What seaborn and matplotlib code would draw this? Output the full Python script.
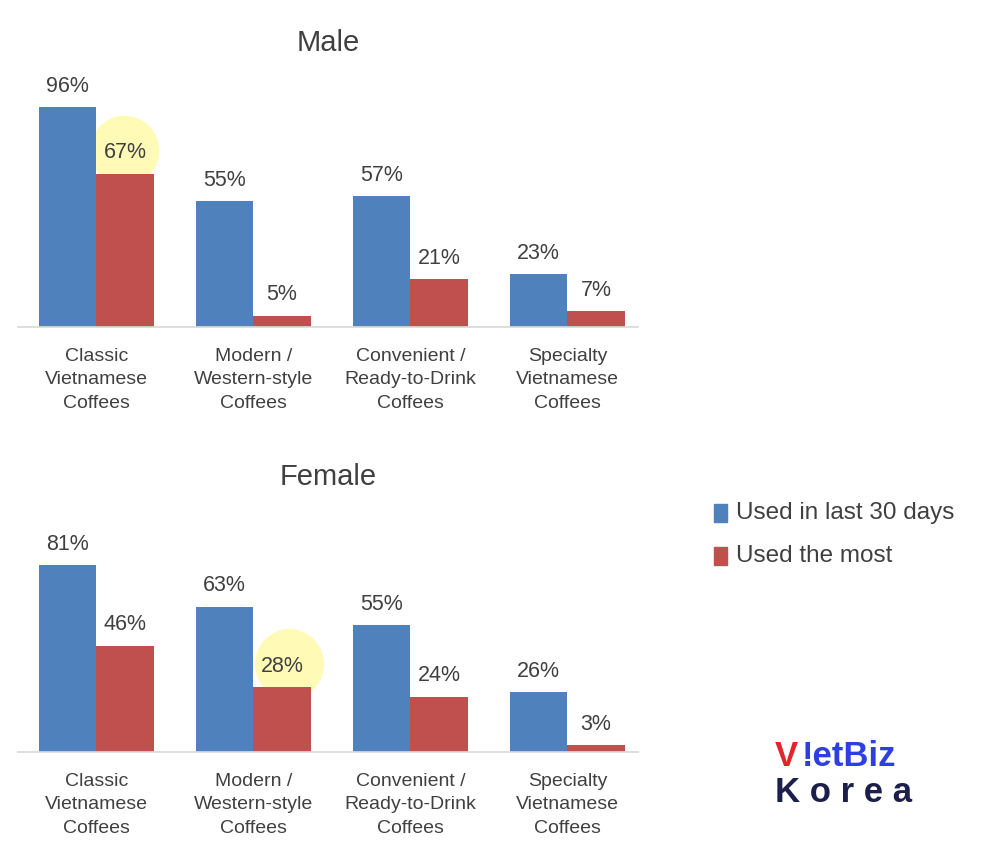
import matplotlib
matplotlib.use("Agg")
import matplotlib.pyplot as plt
import seaborn as sns
import pandas as pd
from matplotlib.patches import Ellipse, Rectangle

categories = ["Classic\nVietnamese\nCoffees", "Modern /\nWestern-style\nCoffees",
              "Convenient /\nReady-to-Drink\nCoffees", "Specialty\nVietnamese\nCoffees"]
series = ["Used in last 30 days", "Used the most"]
male_30 = [96, 55, 57, 23]
male_most = [67, 5, 21, 7]
female_30 = [81, 63, 55, 26]
female_most = [46, 28, 24, 3]
colors = ["#4F81BD", "#C0504D"]
tc = "#404040"

sns.set_theme(style="white")
plt.rcParams['font.family'] = ['Liberation Sans', 'DejaVu Sans']

fig = plt.figure(figsize=(10, 8.66), dpi=100)
ax1 = fig.add_axes([0.018, 0.6224, 0.62, 0.2644])
ax2 = fig.add_axes([0.018, 0.1316, 0.62, 0.2667])

def draw(ax, a, b, hl):
    df = pd.DataFrame({"cat": categories * 2, "s": [series[0]] * 4 + [series[1]] * 4,
                       "v": a + b})
    ex, ey = hl
    ax.add_patch(Ellipse((ex, ey), 0.43, 30, color="#FFFBB0", zorder=0, alpha=0.9))
    sns.barplot(data=df, x="cat", y="v", hue="s", palette=colors, width=0.73, gap=0,
                ax=ax, legend=False, saturation=1, zorder=2, linewidth=0)
    for cont in ax.containers:
        for r in cont:
            h = r.get_height()
            ax.text(r.get_x() + r.get_width() / 2, h + 4.5, f"{h:.0f}%", ha="center",
                    va="bottom", fontsize=15.5, color=tc, zorder=3)
    ax.set_xlim(-0.5, 3.45)
    ax.set_ylim(0, 100)
    ax.set_yticks([])
    ax.set_xlabel(""); ax.set_ylabel("")
    ax.set_xticks(range(4), categories, linespacing=1.5)
    for s in ["top", "right", "left"]:
        ax.spines[s].set_visible(False)
    ax.spines["bottom"].set_color("#D9D9D9")
    ax.tick_params(axis="x", labelsize=14, colors=tc, length=0, pad=15)

draw(ax1, male_30, male_most, (0.18, 77))
draw(ax2, female_30, female_most, (1.23, 38))
ax1.set_title("Male", fontsize=21, color=tc, y=1.17)
ax2.set_title("Female", fontsize=21, color=tc, y=1.12)

for i, (lab, yy) in enumerate(zip(series, [513, 556])):
    fy = 1 - yy / 866
    fig.patches.append(Rectangle((0.714, fy - 0.010), 0.013, 0.020, color=colors[i],
                                 transform=fig.transFigure, figure=fig))
    fig.text(0.736, fy, lab, fontsize=17.5, color=tc, va="center")

fig.text(0.775, 1 - 756 / 866, "V", fontsize=25, color="#E0262B", fontweight="bold", va="center")
fig.text(0.802, 1 - 756 / 866, "!etBiz", fontsize=25, color="#2D3FE0", fontweight="bold", va="center")
fig.text(0.775, 1 - 792 / 866, "K o r e a", fontsize=25, color="#1B1F4A", fontweight="bold", va="center")

fig.savefig("out.png", dpi=100)
